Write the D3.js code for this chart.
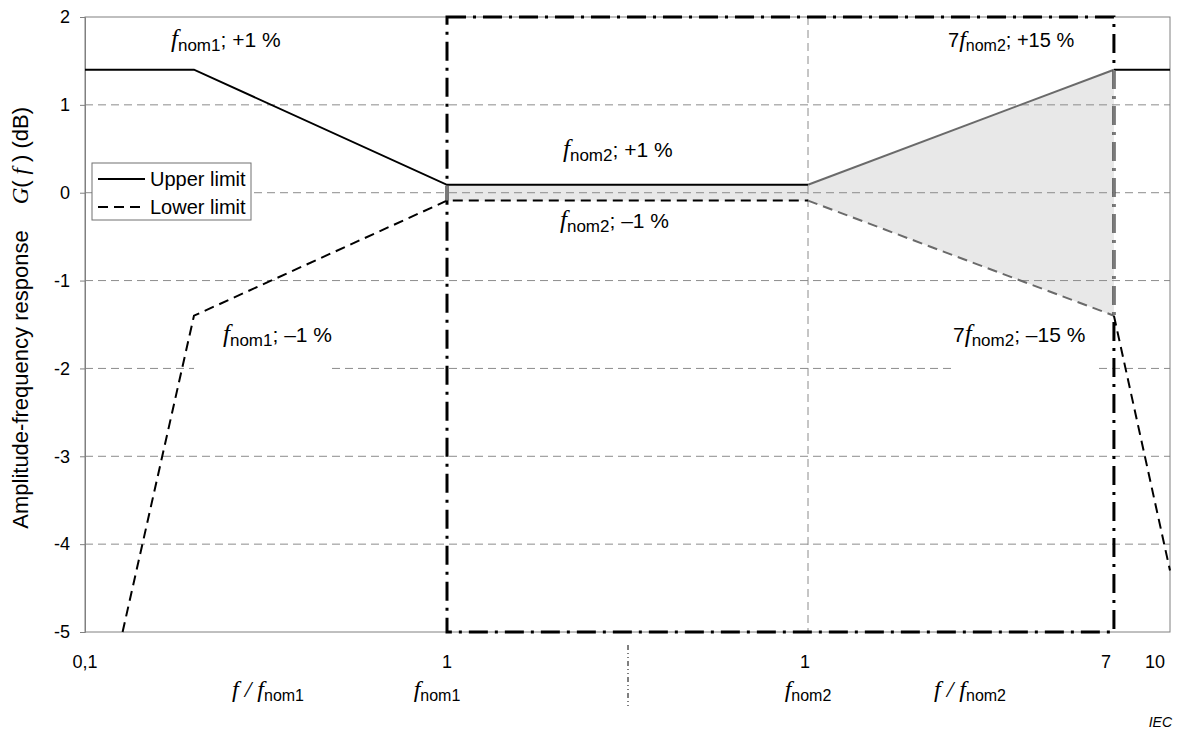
<!DOCTYPE html>
<html>
<head>
<meta charset="utf-8">
<script src="https://cdn.jsdelivr.net/npm/d3@7"></script>
<style>
  html, body { margin: 0; padding: 0; background: #fff; }
  svg { display: block; font-family: "Liberation Sans", Arial, sans-serif; }
  text { white-space: pre; }
</style>
</head>
<body>
<svg id="chart" width="1189" height="735"></svg>
<script>
// limit curves, [f/fnom, dB]; the middle band runs 0..1 from fnom1 to fnom2
const upperLeft = [[0.1, 1.4], [0.2, 1.4], [1, 0.09]];
const upperMid = [[0, 0.09], [1, 0.09]];
const upperRight = [[1, 0.09], [7, 1.4]];
const upperTail = [[7, 1.4], [10, 1.4]];

const lowerLeft = [[0.127, -5], [0.2, -1.4], [1, -0.09]];
const lowerMid = [[0, -0.09], [1, -0.09]];
const lowerRight = [[1, -0.09], [7, -1.4]];
const lowerTail = [[7, -1.4], [10, -4.3]];

const yTicks = [2, 1, 0, -1, -2, -3, -4, -5];
const gridValues = [1, 0, -1, -2, -3, -4];
const xTickLeft = [[0.1, "0,1"], [1, "1"]];
const xTickRight = [[1, "1"], [7, "7"], [10, "10"]];
const bandEdge = 7; // 7 fnom2

const svg = d3.select('#chart');

const xL = d3.scaleLog().domain([0.1, 1]).range([85, 447]);
const xM = d3.scaleLinear().domain([0, 1]).range([447, 808]);
const xR = d3.scaleLog().domain([1, 10]).range([808, 1170]);
const y = d3.scaleLinear().domain([-5, 2]).range([632, 17]);

const px = (sc, pts) => pts.map(d => [sc(d[0]), y(d[1])]);
const line = d3.line();

// shaded tolerance band fnom1 .. 7fnom2
const band = [
  ...px(xM, upperMid), ...px(xR, upperRight),
  ...px(xR, lowerRight).reverse(), ...px(xM, lowerMid).reverse()
];
svg.append('path')
  .attr('d', line(band) + 'Z')
  .attr('fill', '#e8e8e8');

// grid
svg.append('g').selectAll('line')
  .data(gridValues)
  .enter().append('line')
  .attr('x1', xL(0.1)).attr('x2', xR(10))
  .attr('y1', d => y(d)).attr('y2', d => y(d))
  .attr('stroke', '#8c8c8c').attr('stroke-width', 1)
  .attr('stroke-dasharray', '8,5');

svg.append('line')
  .attr('x1', xR(1)).attr('x2', xR(1))
  .attr('y1', y(2)).attr('y2', y(-5))
  .attr('stroke', '#8c8c8c').attr('stroke-width', 1)
  .attr('stroke-dasharray', '8,5');

// white label boxes that hide grid under the -1 % labels
svg.append('rect').attr('x', xL(0.2)).attr('y', y(-1.75))
  .attr('width', 138).attr('height', 28).attr('fill', '#fff');
svg.append('rect').attr('x', 953).attr('y', y(-1.75))
  .attr('width', 145).attr('height', 28).attr('fill', '#fff');

// plot frame
svg.append('rect')
  .attr('x', xL(0.1)).attr('y', y(2))
  .attr('width', xR(10) - xL(0.1)).attr('height', y(-5) - y(2))
  .attr('fill', 'none').attr('stroke', '#808080').attr('stroke-width', 1);

// y axis
const yAxis = svg.append('g')
  .attr('transform', `translate(${xL(0.1)},0)`)
  .call(d3.axisLeft(y).tickValues(yTicks).tickSize(5).tickPadding(10).tickFormat(d => String(d)));
yAxis.select('.domain').attr('stroke', '#808080');
yAxis.selectAll('.tick line').attr('stroke', '#808080');
yAxis.selectAll('.tick text')
  .attr('font-size', 18).attr('font-family', '"Liberation Sans", Arial, sans-serif')
  .attr('fill', '#000');

// limit lines
function drawLine(pts, color, dashed) {
  svg.append('path')
    .attr('d', line(pts))
    .attr('fill', 'none')
    .attr('stroke', color)
    .attr('stroke-width', 2)
    .attr('stroke-dasharray', dashed ? '10,6' : null);
}
drawLine([...px(xL, upperLeft), ...px(xM, upperMid)], '#000', false);
drawLine(px(xR, upperRight), '#6a6a6a', false);
drawLine(px(xR, upperTail), '#000', false);
drawLine([...px(xL, lowerLeft), ...px(xM, lowerMid)], '#000', true);
drawLine(px(xR, lowerRight), '#6a6a6a', true);
drawLine(px(xR, lowerTail), '#000', true);

// dash-dot frame fnom1 .. 7fnom2
const frame = [[xM(0), y(2)], [xR(bandEdge), y(2)], [xR(bandEdge), y(-5)], [xM(0), y(-5)]];
const framePath = line(frame) + 'Z';
svg.append('path')
  .attr('d', framePath)
  .attr('fill', 'none').attr('stroke', '#000').attr('stroke-width', 3)
  .attr('stroke-dasharray', '19,7,3,7');

const defs = svg.append('defs');
const clip = defs.append('clipPath').attr('id', 'band-clip');
clip.append('rect')
  .attr('x', xR(bandEdge) - 4).attr('y', y(1.4))
  .attr('width', 8).attr('height', y(-1.4) - y(1.4));
clip.append('rect')
  .attr('x', xM(0) - 4).attr('y', y(0.09))
  .attr('width', 8).attr('height', y(-0.09) - y(0.09));
svg.append('path')
  .attr('d', framePath)
  .attr('clip-path', 'url(#band-clip)')
  .attr('fill', 'none').attr('stroke', '#7a7a7a').attr('stroke-width', 3)
  .attr('stroke-dasharray', '19,7,3,7');

// rich text: italic serif f, sans subscript, sans rest
function richText(x, y0, anchor, parts, size) {
  size = size || 20;
  const t = svg.append('text')
    .attr('x', x).attr('y', y0)
    .attr('text-anchor', anchor)
    .attr('fill', '#000');
  let shift = 0;
  parts.forEach(p => {
    const s = t.append('tspan').text(p.t);
    if (p.it) {
      s.attr('font-family', '"Liberation Serif", "Times New Roman", serif')
        .attr('font-style', 'italic').attr('font-size', size + 4);
    } else if (p.sub) {
      s.attr('font-size', size - 4);
    } else {
      s.attr('font-size', size);
    }
    const want = p.sub ? 4 : 0;
    if (want !== shift) { s.attr('dy', want - shift); shift = want; }
  });
  return t;
}

const F = { t: 'f', it: true };
const sub = s => ({ t: s, sub: true });
const plain = s => ({ t: s });

richText(171, 47, 'start', [F, sub('nom1'), plain('; +1 %')], 21);
richText(948, 47, 'start', [plain('7'), F, sub('nom2'), plain('; +15 %')], 20);
richText(563, 157, 'start', [F, sub('nom2'), plain('; +1 %')], 21);
richText(560, 228, 'start', [F, sub('nom2'), plain('; \u20131 %')], 21);
richText(223, 342, 'start', [F, sub('nom1'), plain('; \u20131 %')], 21);
richText(953, 342, 'start', [plain('7'), F, sub('nom2'), plain('; \u201315 %')], 21);

// x tick labels
xTickLeft.forEach(d => {
  svg.append('text').attr('x', xL(d[0])).attr('y', 668)
    .attr('text-anchor', 'middle').attr('font-size', 18).text(d[1]);
});
xTickRight.forEach(d => {
  const x = xR(d[0]) - (d[0] === 1 ? 3 : d[0] === 7 ? 8 : 15);
  svg.append('text').attr('x', x).attr('y', 668)
    .attr('text-anchor', 'middle').attr('font-size', 18).text(d[1]);
});

// second label row
richText(268, 697, 'middle', [F, { t: ' / ', it: true }, F, sub('nom1')]);
richText(xM(0) - 10, 697, 'middle', [F, sub('nom1')]);
richText(xR(1), 697, 'middle', [F, sub('nom2')]);
richText(970, 697, 'middle', [F, { t: ' / ', it: true }, F, sub('nom2')]);

svg.append('line')
  .attr('x1', 628).attr('x2', 628).attr('y1', 645).attr('y2', 706)
  .attr('stroke', '#000').attr('stroke-width', 1)
  .attr('stroke-dasharray', '5,3,1,3,1,3');

// y title, end of text sits at the top
const title = svg.append('text')
  .attr('transform', 'translate(28,107) rotate(-90)')
  .attr('text-anchor', 'end').attr('font-size', 22);
title.append('tspan').text('Amplitude-frequency response');
title.append('tspan').text('G').attr('dx', 26)
  .attr('font-family', '"Liberation Serif", serif').attr('font-style', 'italic').attr('font-size', 23);
title.append('tspan').text('(');
title.append('tspan').text('f').attr('dx', 6)
  .attr('font-family', '"Liberation Serif", serif').attr('font-style', 'italic').attr('font-size', 23);
title.append('tspan').text(') (dB)').attr('dx', 6);

// legend
const lg = svg.append('g').attr('transform', 'translate(92,163)');
lg.append('rect').attr('width', 159).attr('height', 57)
  .attr('fill', '#fff').attr('stroke', '#707070').attr('stroke-width', 1);
lg.append('line').attr('x1', 6).attr('x2', 53).attr('y1', 16).attr('y2', 16)
  .attr('stroke', '#000').attr('stroke-width', 2);
lg.append('line').attr('x1', 6).attr('x2', 53).attr('y1', 44).attr('y2', 44)
  .attr('stroke', '#000').attr('stroke-width', 2).attr('stroke-dasharray', '10,6');
lg.append('text').attr('x', 58).attr('y', 23).attr('font-size', 20).text('Upper limit');
lg.append('text').attr('x', 58).attr('y', 51).attr('font-size', 20).text('Lower limit');

svg.append('text').attr('x', 1172).attr('y', 727).attr('text-anchor', 'end')
  .attr('font-size', 14).attr('font-style', 'italic').text('IEC');
</script>
</body>
</html>
